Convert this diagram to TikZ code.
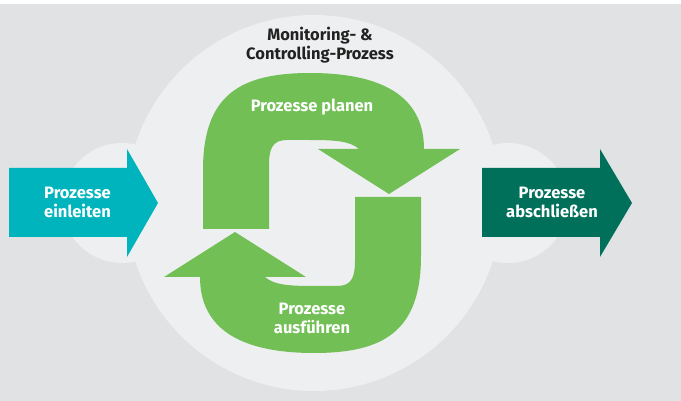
\documentclass[tikz,border=0pt]{standalone}
\usepackage{fontspec}
\setmainfont{Fira Sans}
\definecolor{bggray}{HTML}{E1E2E4}
\definecolor{circgray}{HTML}{EEEFF1}
\definecolor{cyanarrow}{HTML}{00B4BE}
\definecolor{darkgreen}{HTML}{00705A}
\definecolor{leafgreen}{HTML}{72BF56}
\definecolor{titlegray}{HTML}{222222}
\tikzset{
  lbl/.style={font=\bfseries\fontsize{16.5}{19}\selectfont, text=white, align=center, inner sep=0pt},
  ttl/.style={font=\bfseries\fontsize{16.5}{19}\selectfont, text=titlegray, align=center, inner sep=0pt},
}
\begin{document}
\begin{tikzpicture}[x=1pt,y=-1pt]
\useasboundingbox (0,0) rectangle (681,401);
\fill[white] (0,0) rectangle (681,401);
\fill[bggray] (0,4) rectangle (681,401);
% circles
\fill[circgray] (122,203) circle (60);
\fill[circgray] (508,203) circle (60);
\fill[circgray] (314,203) circle (188);
% side arrows
\fill[cyanarrow] (9,168) -- (127,168) -- (127,149) -- (158,203) -- (127,257) -- (127,237) -- (9,237) -- cycle;
\fill[darkgreen] (482,168) -- (600,168) -- (600,149) -- (632,203) -- (600,257) -- (600,237) -- (482,237) -- cycle;
% green cycle arrows
\def\toparrow{(203,229) -- (203,170) .. controls (203,95) and (240,73) .. (310,73)
  .. controls (380,73) and (424,95) .. (424,149) -- (460,149) -- (389,194) -- (318,149) -- (359,149)
  .. controls (350,141) and (335,140) .. (310,140) -- (287,140) .. controls (273,140) and (269,148) .. (269,165)
  -- (269,229) -- cycle}
\fill[leafgreen] \toparrow;
\fill[leafgreen, rotate around={180:(312,213)}] \toparrow;
% texts
\node[ttl] (mon) at (320,45.5) {Monitoring- \&\\Controlling-Prozess};
\node[lbl] (plan) at (312,107) {Prozesse planen};
\node[lbl] (ausf) at (312,318.5) {Prozesse\\ausführen};
\node[lbl] (einl) at (77.5,202.5) {Prozesse\\einleiten};
\node[lbl] (absch) at (552,202.5) {Prozesse\\abschließen};
\end{tikzpicture}
\end{document}
